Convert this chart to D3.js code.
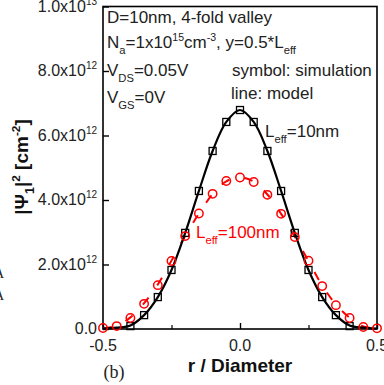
<!DOCTYPE html>
<html>
<head>
<meta charset="utf-8">
<script src="https://cdn.jsdelivr.net/npm/d3@7"></script>
<style>
  body { margin: 0; background: #fff; }
  svg { display: block; font-family: 'Liberation Sans', Arial, sans-serif; }
</style>
</head>
<body>
<div id="chart"></div>
<script>
// values in units of 1e12 cm^-2
const rSim = [-0.40, -0.35, -0.30, -0.25, -0.20, -0.15, -0.10, -0.05, 0.00, 0.05, 0.10, 0.15, 0.20, 0.25, 0.30, 0.35, 0.40];
const sim10 = [0.09, 0.43, 0.99, 1.83, 2.98, 4.28, 5.52, 6.42, 6.79, 6.42, 5.52, 4.28, 2.98, 1.83, 0.99, 0.43, 0.09];

const rSim100 = [-0.50, -0.45, -0.40, -0.35, -0.30, -0.25, -0.20, -0.15, -0.10, -0.05, 0.00, 0.05, 0.10, 0.15, 0.20, 0.25, 0.30, 0.35, 0.40, 0.45, 0.50];
const sim100 = [0.03, 0.09, 0.34, 0.78, 1.36, 2.11, 2.88, 3.58, 4.19, 4.59, 4.70, 4.56, 4.16, 3.57, 2.85, 2.12, 1.33, 0.74, 0.34, 0.06, 0.02];

const rModel = [-0.50, -0.45, -0.40, -0.35, -0.30, -0.25, -0.20, -0.15, -0.10, -0.05, 0.00, 0.05, 0.10, 0.15, 0.20, 0.25, 0.30, 0.35, 0.40, 0.45, 0.50];
const model10 = [0.01, 0.04, 0.11, 0.43, 0.99, 1.83, 2.98, 4.28, 5.52, 6.42, 6.79, 6.42, 5.52, 4.28, 2.98, 1.83, 0.99, 0.43, 0.11, 0.04, 0.01];
const model100 = [0.02, 0.10, 0.36, 0.80, 1.38, 2.12, 2.88, 3.58, 4.18, 4.58, 4.70, 4.57, 4.17, 3.57, 2.86, 2.11, 1.35, 0.76, 0.35, 0.08, 0.02];

const xTicks = [-0.5, 0.0, 0.5];
const xMinorTicks = [-0.25, 0.25];
const yTicks = [0, 2, 4, 6, 8, 10];
const yTickLabels = [['0.0', ''], ['2.0x10', '12'], ['4.0x10', '12'], ['6.0x10', '12'], ['8.0x10', '12'], ['1.0x10', '13']];

const width = 384, height = 385;
const margin = {left: 103, right: 7, top: 6.5, bottom: 56};

const svg = d3.select('#chart').append('svg')
    .attr('width', width)
    .attr('height', height);

const x = d3.scaleLinear().domain([-0.5, 0.5]).range([margin.left, width - margin.right]);
const y = d3.scaleLinear().domain([0, 10]).range([height - margin.bottom, margin.top]);

// frame
svg.append('rect')
    .attr('x', x(-0.5)).attr('y', y(10))
    .attr('width', x(0.5) - x(-0.5)).attr('height', y(0) - y(10))
    .attr('fill', 'none').attr('stroke', '#000').attr('stroke-width', 1.6);

// axes with inward ticks
svg.append('g')
    .attr('transform', 'translate(0,' + y(0) + ')')
    .call(d3.axisBottom(x).tickValues(xTicks).tickSize(-6).tickFormat(''))
    .call(g => g.select('.domain').remove())
    .call(g => g.selectAll('line').attr('stroke-width', 1.4));
svg.append('g')
    .attr('transform', 'translate(0,' + y(0) + ')')
    .call(d3.axisBottom(x).tickValues(xMinorTicks).tickSize(-4).tickFormat(''))
    .call(g => g.select('.domain').remove())
    .call(g => g.selectAll('line').attr('stroke-width', 1.2));
svg.append('g')
    .attr('transform', 'translate(' + x(-0.5) + ',0)')
    .call(d3.axisLeft(y).tickValues(yTicks).tickSize(-6).tickFormat(''))
    .call(g => g.select('.domain').remove())
    .call(g => g.selectAll('line').attr('stroke-width', 1.4));

// x tick labels
svg.selectAll('.xlab').data(xTicks).enter().append('text')
    .attr('x', d => x(d))
    .attr('y', 351)
    .attr('text-anchor', 'middle')
    .attr('font-size', 16)
    .attr('fill', '#222')
    .text(d => d.toFixed(1));

// y tick labels with superscripts
const yl = svg.selectAll('.ylab').data(yTicks).enter().append('text')
    .attr('x', 97)
    .attr('y', d => y(d) + 5)
    .attr('text-anchor', 'end')
    .attr('font-size', 16)
    .attr('fill', '#222');
yl.append('tspan').text((d, i) => yTickLabels[i][0]);
yl.append('tspan').attr('dy', -7).attr('font-size', 10).text((d, i) => yTickLabels[i][1]);

// rich text helper
function richText(parent, px, py, parts, size, color, weight) {
  const t = parent.append('text')
      .attr('x', px).attr('y', py)
      .attr('font-size', size)
      .attr('fill', color)
      .attr('font-weight', weight || 'normal');
  let shift = 0;
  parts.forEach(([s, mode]) => {
    const sp = t.append('tspan').text(s);
    let target = 0;
    if (mode === 'sub') { target = size * 0.33; sp.attr('font-size', size * 0.66); }
    else if (mode === 'sup') { target = -size * 0.42; sp.attr('font-size', size * 0.62); }
    sp.attr('dy', target - shift);
    shift = target;
  });
  return t;
}

// annotations
richText(svg, 107, 23, [['D=10nm, 4-fold valley']], 17, '#222');
richText(svg, 107, 48, [['N'], ['a', 'sub'], ['=1x10'], ['15', 'sup'], ['cm'], ['-3', 'sup'], [', y=0.5*L'], ['eff', 'sub']], 17, '#222');
richText(svg, 107, 76, [['V'], ['DS', 'sub'], ['=0.05V']], 17, '#222');
richText(svg, 107, 103, [['V'], ['GS', 'sub'], ['=0V']], 17, '#222');
richText(svg, 232, 76, [['symbol: simulation']], 17, '#222');
richText(svg, 231, 99, [['line: model']], 17, '#222');
richText(svg, 265, 137, [['L'], ['eff', 'sub'], ['=10nm']], 17, '#222');
richText(svg, 196, 238, [['L'], ['eff', 'sub'], ['=100nm']], 17, '#ff0000');

// axis titles
richText(svg, 240, 372, [['r / Diameter']], 19, '#111', 'bold').attr('text-anchor', 'middle');
richText(svg, 0, 0, [['|\u03A8'], ['1', 'sub'], ['|'], ['2', 'sup'], [' [cm'], ['-2', 'sup'], [']']], 19, '#111', 'bold')
    .attr('text-anchor', 'middle')
    .attr('transform', 'translate(28,167) rotate(-90)');

svg.append('text')
    .attr('x', 114).attr('y', 378)
    .attr('text-anchor', 'middle')
    .attr('font-family', "'Liberation Serif', 'Times New Roman', serif")
    .attr('font-size', 18)
    .attr('fill', '#222')
    .text('(b)');

// cut-off letters from the neighbouring panel
svg.selectAll('.cut').data([278, 300]).enter().append('text')
    .attr('x', -6).attr('y', d => d)
    .attr('font-family', "'Liberation Serif', serif")
    .attr('font-size', 14)
    .attr('fill', '#222')
    .text('A');

// model lines
const line = d3.line()
    .x(d => x(d[0]))
    .y(d => y(d[1]))
    .curve(d3.curveCatmullRom);

svg.append('path')
    .datum(rModel.map((r, i) => [r, model100[i]]))
    .attr('fill', 'none')
    .attr('stroke', '#ff0000')
    .attr('stroke-width', 2)
    .attr('stroke-dasharray', '9,15')
    .attr('d', line);

svg.append('path')
    .datum(rModel.map((r, i) => [r, model10[i]]))
    .attr('fill', 'none')
    .attr('stroke', '#000')
    .attr('stroke-width', 2.2)
    .attr('d', line);

// simulation symbols
svg.selectAll('.sq').data(rSim.map((r, i) => [r, sim10[i]])).enter().append('rect')
    .attr('x', d => x(d[0]) - 3.5)
    .attr('y', d => y(d[1]) - 3.5)
    .attr('width', 7).attr('height', 7)
    .attr('fill', 'none')
    .attr('stroke', '#000')
    .attr('stroke-width', 1.3);

svg.selectAll('.ci').data(rSim100.map((r, i) => [r, sim100[i]])).enter().append('circle')
    .attr('cx', d => x(d[0]))
    .attr('cy', d => y(d[1]))
    .attr('r', 4.2)
    .attr('fill', 'none')
    .attr('stroke', '#ff0000')
    .attr('stroke-width', 1.5);
</script>
</body>
</html>
